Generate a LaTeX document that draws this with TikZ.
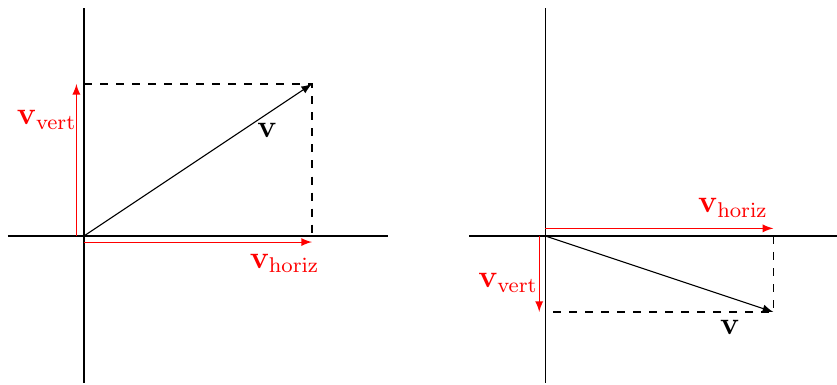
\documentclass[tikz,border=0pt]{standalone}
\usetikzlibrary{arrows}
\begin{document}
\begin{tikzpicture}[>=latex, x=1cm, y=1cm,
    comp/.style={->, red},
    complabel/.style={red, font=\large},
    veclabel/.style={font=\large}]
    \useasboundingbox (-1.105,-1.96) rectangle (9.908,3.105);

    % Primer vector: hacia arriba y a la derecha
    \coordinate (O1) at (0,0);
    \coordinate (V1) at (3,2);
    \coordinate (P1) at (0,2);
    \coordinate (Q1) at (3,0);
    % Ejes
    \draw (-1,0) -- (4,0);
    \draw (0,-1.93) -- (0,3);
    % Líneas punteadas
    \draw[dashed] (P1) -- (V1) -- (Q1);
    % Vector
    \draw[->] (O1) -- (V1);
    \node[veclabel] (v1) at (2.41,1.39) {$\mathbf{v}$};
    % Componentes en rojo
    \draw[comp] ([xshift=-0.1cm]O1) -- ([xshift=-0.1cm]P1);
    \draw[comp] ([yshift=-0.08cm]O1) -- ([yshift=-0.08cm]Q1);
    \node[complabel] (vv1) at (-0.49,1.53) {$\mathbf{v}_{\mathrm{vert}}$};
    \node[complabel] (vh1) at (2.64,-0.36) {$\mathbf{v}_{\mathrm{horiz}}$};

    % Segundo vector: hacia abajo y a la derecha
    \begin{scope}[shift={(6.07,0)}]
        \coordinate (O2) at (0,0);
        \coordinate (V2) at (3,-1);
        \coordinate (P2) at (0,-1);
        \coordinate (Q2) at (3,0);
        % Ejes
        \draw (-1,0) -- (3.84,0);
        \draw (0,-1.93) -- (0,3);
        % Líneas punteadas
        \draw[dashed] (Q2) -- (V2) -- (P2);
        % Vector
        \draw[->] (O2) -- (V2);
        \node[veclabel] (v2) at (2.43,-1.2) {$\mathbf{v}$};
        % Componentes en rojo
        \draw[comp] ([xshift=-0.08cm]O2) -- ([xshift=-0.08cm]P2);
        \draw[comp] ([yshift=0.1cm]O2) -- ([yshift=0.1cm]Q2);
        \node[complabel] (vv2) at (-0.49,-0.62) {$\mathbf{v}_{\mathrm{vert}}$};
        \node[complabel] (vh2) at (2.47,0.37) {$\mathbf{v}_{\mathrm{horiz}}$};
    \end{scope}
\end{tikzpicture}
\end{document}
